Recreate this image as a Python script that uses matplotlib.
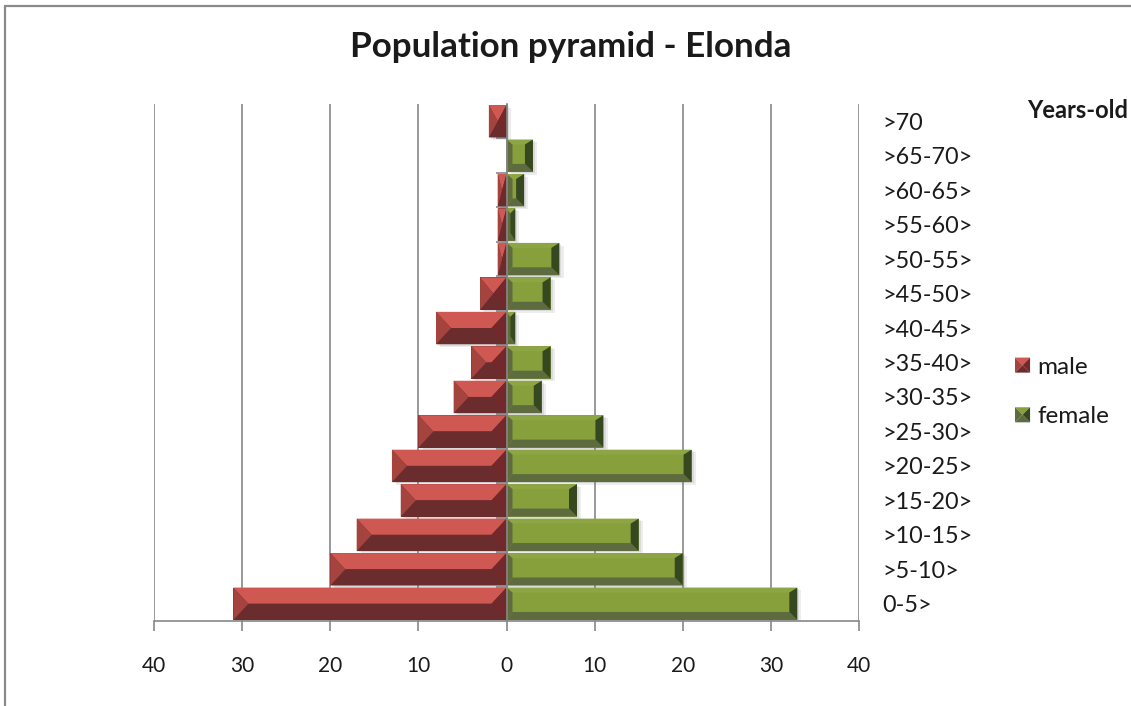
import matplotlib
matplotlib.use("Agg")
import matplotlib.pyplot as plt
from matplotlib.patches import Polygon, Rectangle
from matplotlib.legend_handler import HandlerBase
from matplotlib.ticker import FixedLocator, FuncFormatter
import matplotlib.patheffects as pe

plt.rcParams['font.family'] = ['Lato', 'DejaVu Sans']

# ---- data -------------------------------------------------------------
age_groups = ['0-5>', '>5-10>', '>10-15>', '>15-20>', '>20-25>', '>25-30>',
              '>30-35>', '>35-40>', '>40-45>', '>45-50>', '>50-55>',
              '>55-60>', '>60-65>', '>65-70>', '>70']
male = [31, 20, 17, 12, 13, 10, 6, 4, 8, 3, 1, 1, 1, 0, 2]
female = [33, 20, 15, 8, 21, 11, 4, 5, 1, 5, 6, 1, 2, 3, 0]
x_ticks = [-40, -30, -20, -10, 0, 10, 20, 30, 40]

# ---- styling ------------------------------------------------------------
MALE_SHADES = dict(top='#CF5952', left='#A5433E', bottom='#6A2C2C', right='#73282B')
FEMALE_SHADES = dict(face='#88A03C', top='#8DA542', left='#606C3E',
                     bottom='#5E6B3E', right='#36481F')
GRID = '#878787'
TEXT = '#1A1A1A'

W, H, DPI = 1131, 706, 100
fig = plt.figure(figsize=(W / DPI, H / DPI), dpi=DPI)
ax = fig.add_axes([154 / W, 85 / H, 705 / W, 517 / H])

ypos = list(range(len(age_groups)))
bar_h = 0.94
ax.set_xlim(-40, 40)
ax.set_ylim(-0.5, len(age_groups) - 0.5)

shadow = [pe.SimplePatchShadow(offset=(3, -2), shadow_rgbFace='0.45', alpha=0.12),
          pe.SimplePatchShadow(offset=(1.5, -1), shadow_rgbFace='0.45', alpha=0.15),
          pe.Normal()]

bars_m = ax.barh(ypos, [-v for v in male], height=bar_h, color=MALE_SHADES['bottom'],
                 linewidth=0, zorder=1, label='male')
bars_f = ax.barh(ypos, female, height=bar_h, color=FEMALE_SHADES['face'],
                 linewidth=0, zorder=1, label='female')
for b in list(bars_m) + list(bars_f):
    if b.get_width() != 0:
        b.set_path_effects(shadow)

# pixel sizes -> data units for the bevel facets
px_x = ax.transData.transform((1, 0))[0] - ax.transData.transform((0, 0))[0]
px_y = ax.transData.transform((0, 1))[1] - ax.transData.transform((0, 0))[1]


def add_poly(pts, color):
    ax.add_patch(Polygon(pts, closed=True, facecolor=color, edgecolor='none',
                         linewidth=0, zorder=2))


# male bars: pyramid bevel meeting along the centre line
for b in bars_m:
    x0, w = b.get_x(), b.get_width()
    L, R = min(x0, x0 + w), max(x0, x0 + w)
    if R - L <= 0:
        continue
    B, T = b.get_y(), b.get_y() + b.get_height()
    cy = (B + T) / 2
    ix = min(15 / px_x, (R - L) / 2)
    add_poly([(L, T), (R, T), (R - ix, cy), (L + ix, cy)], MALE_SHADES['top'])
    add_poly([(L, B), (R, B), (R - ix, cy), (L + ix, cy)], MALE_SHADES['bottom'])
    add_poly([(L, T), (L + ix, cy), (L, B)], MALE_SHADES['left'])
    add_poly([(R, T), (R - ix, cy), (R, B)], MALE_SHADES['right'])

# female bars: flat face with a narrow bevel frame
for b in bars_f:
    L, w = b.get_x(), b.get_width()
    if w <= 0:
        continue
    R = L + w
    B, T = b.get_y(), b.get_y() + b.get_height()
    il, ir = 6 / px_x, 8 / px_x
    if il + ir > w:
        s = w / (il + ir)
        il, ir = il * s, ir * s
    it, ib = 5 / px_y, 8 / px_y
    add_poly([(L + il, B + ib), (R - ir, B + ib), (R - ir, T - it), (L + il, T - it)],
             FEMALE_SHADES['face'])
    add_poly([(L, T), (R, T), (R - ir, T - it), (L + il, T - it)], FEMALE_SHADES['top'])
    add_poly([(L, B), (R, B), (R - ir, B + ib), (L + il, B + ib)], FEMALE_SHADES['bottom'])
    add_poly([(L, T), (L + il, T - it), (L + il, B + ib), (L, B)], FEMALE_SHADES['left'])
    add_poly([(R, T), (R - ir, T - it), (R - ir, B + ib), (R, B)], FEMALE_SHADES['right'])

# ---- axes -------------------------------------------------------------
ax.set_axisbelow(True)
ax.xaxis.set_major_locator(FixedLocator(x_ticks))
ax.xaxis.set_major_formatter(FuncFormatter(lambda v, p: f"{abs(int(round(v)))}"))
ax.grid(axis='x', color=GRID, linewidth=1.2)
ax.grid(axis='y', visible=False)
ax.tick_params(axis='x', which='major', direction='out', length=7, width=1.2,
               color=GRID, labelsize=15, labelcolor=TEXT, pad=18)

for side in ('top', 'right'):
    ax.spines[side].set_visible(False)
ax.spines['bottom'].set_color(GRID)
ax.spines['bottom'].set_linewidth(1.2)
ax.spines['left'].set_position(('data', 0))
ax.spines['left'].set_color(GRID)
ax.spines['left'].set_linewidth(1.2)
ax.spines['left'].set_zorder(3)

ax.set_yticks(ypos)
ax.set_yticklabels(age_groups)
ax.yaxis.set_minor_locator(FixedLocator([i - 0.5 for i in range(1, len(age_groups))]))
ax.tick_params(axis='y', which='major', left=False, right=False,
               labelleft=False, labelright=True, labelsize=16.8, labelcolor=TEXT, pad=13.5)
ax.tick_params(axis='y', which='minor', left=True, right=False, direction='out',
               length=8, width=1.2, color=GRID)
for t in ax.get_yticklabels():
    t.set_horizontalalignment('left')


# ---- legend with bevelled swatches ----------------------------------------
class BevelSwatch(HandlerBase):
    def __init__(self, shades):
        super().__init__()
        self.shades = shades

    def create_artists(self, legend, orig_handle, xdescent, ydescent, width,
                       height, fontsize, trans):
        s = min(width, height)
        x0 = -xdescent + (width - s) / 2
        y0 = -ydescent + (height - s) / 2
        cx, cy = x0 + s / 2, y0 + s / 2
        x1, y1 = x0 + s, y0 + s
        sh = self.shades
        tris = [([(x0, y1), (x1, y1), (cx, cy)], sh['top']),
                ([(x0, y0), (x1, y0), (cx, cy)], sh['bottom']),
                ([(x0, y1), (x0, y0), (cx, cy)], sh['left']),
                ([(x1, y1), (x1, y0), (cx, cy)], sh['right'])]
        return [Polygon(p, closed=True, facecolor=c, edgecolor='none',
                        transform=trans) for p, c in tris]


female_swatch = dict(FEMALE_SHADES)
female_swatch['top'] = FEMALE_SHADES['face']
leg = fig.legend(handles=[bars_m, bars_f], labels=['male', 'female'],
                 handler_map={bars_m: BevelSwatch(MALE_SHADES),
                              bars_f: BevelSwatch(female_swatch)},
                 loc='center left', bbox_to_anchor=(1015 / W, (H - 392) / H),
                 frameon=False, fontsize=17.5, handlelength=0.62, handleheight=0.62,
                 handletextpad=0.3, labelspacing=1.18, borderaxespad=0, borderpad=0)
for t in leg.get_texts():
    t.set_color(TEXT)

# ---- titles and frame -------------------------------------------------------
fig.text(571 / W, (H - 57) / H, 'Population pyramid - Elonda', ha='center',
         va='baseline', fontsize=25.2, fontweight='bold', color=TEXT)
fig.text(1128 / W, (H - 110) / H, 'Years-old', ha='right', va='center',
         fontsize=17, fontweight='bold', color=TEXT)

fig.add_artist(Rectangle((4.5 / W, -0.05), 1.2, (H - 6) / H + 0.05,
                         transform=fig.transFigure, fill=False,
                         edgecolor='#8A8A8A', linewidth=1.6))

fig.savefig('out.png', dpi=DPI, facecolor='white')
